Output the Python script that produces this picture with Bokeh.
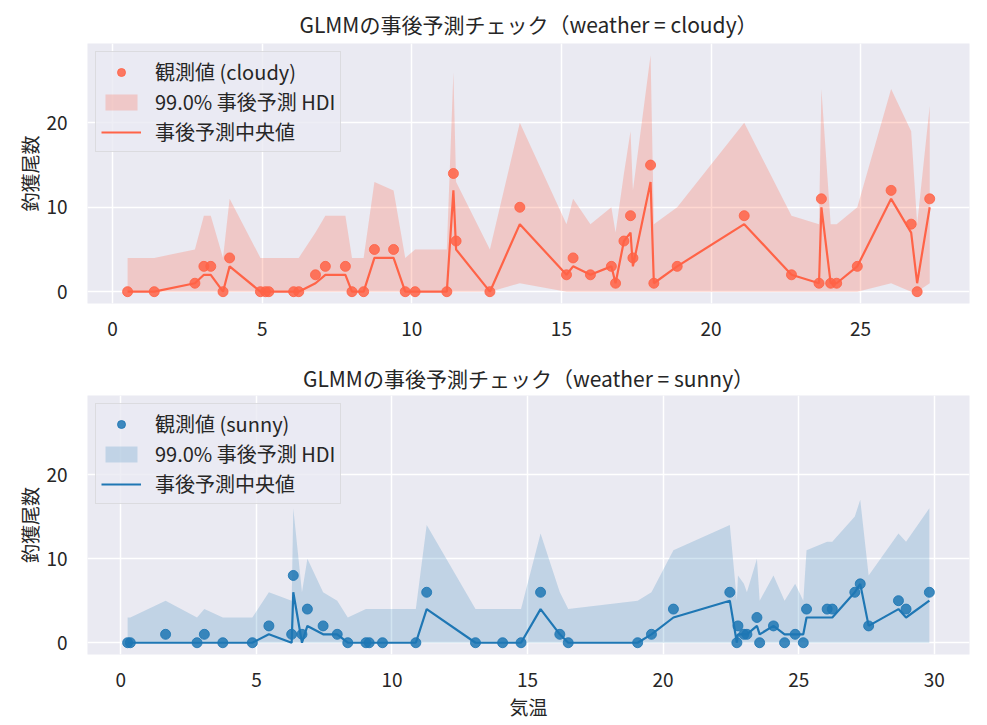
from bokeh.plotting import figure
from bokeh.layouts import column
from bokeh.models import Range1d, FixedTicker, Legend, LegendItem
from bokeh.embed import file_html
from bokeh.resources import INLINE

# ---- data: cloudy ----
cloudy_temp = [0.50, 1.39, 2.75, 3.05, 3.28, 3.69, 3.91, 4.94, 5.11, 5.22, 6.05, 6.22,
               6.78, 7.11, 7.78, 8.00, 8.39, 8.75, 9.39, 9.78, 10.11, 11.17, 11.39, 11.48,
               12.61, 13.61, 15.17, 15.39, 15.97, 16.67, 16.81, 17.09, 17.31, 17.39, 17.98,
               18.09, 18.87, 21.11, 22.69, 23.61, 23.69, 24.00, 24.20, 24.89, 26.02, 26.69,
               26.89, 27.31]
cloudy_obs = [0, 0, 1, 3, 3, 0, 4, 0, 0, 0, 0, 0,
              2, 3, 3, 0, 0, 5, 5, 0, 0, 0, 14, 6,
              0, 10, 2, 4, 2, 3, 1, 6, 9, 4, 15,
              1, 3, 9, 2, 1, 11, 1, 1, 3, 12, 8,
              0, 11]
cloudy_median = [0, 0, 1, 2, 2, 0, 3, 0, 0, 0, 0, 0,
                 1, 2, 2, 0, 0, 4, 4, 0, 0, 0, 12, 5,
                 0, 8, 2, 3, 2, 3, 1, 6, 7, 3, 13,
                 1, 3, 8, 2, 1, 10, 1, 1, 3, 11, 7,
                 1, 10]
cloudy_hdi_low = [0, 0, 0, 0, 0, 0, 0, 0, 0, 0, 0, 0,
                  0, 0, 0, 0, 0, 0, 0, 0, 0, 0, 0, 0,
                  0, 1, 0, 0, 0, 0, 0, 0, 0, 0, 0,
                  0, 0, 0, 0, 0, 0, 0, 0, 0, 1, 0,
                  0, 1]
cloudy_hdi_high = [4, 4, 5, 9, 9, 4, 11, 4, 4, 4, 4, 4,
                   7, 9, 9, 4, 4, 13, 12, 4, 5, 5, 26, 13,
                   5, 20, 8, 11, 8, 10, 7, 14, 19, 12, 28,
                   8, 10, 20, 9, 8, 24, 8, 8, 10, 24, 19,
                   8, 22]

# ---- data: sunny ----
sunny_temp = [0.25, 0.35, 1.65, 2.81, 3.08, 3.76, 4.85, 5.46, 6.30, 6.36, 6.68, 6.88,
              7.46, 7.98, 8.37, 9.04, 9.16, 9.65, 10.88, 11.28, 13.08, 14.08, 14.76,
              15.48, 16.19, 16.50, 19.06, 19.57, 20.38, 22.46, 22.72, 22.76, 22.98,
              23.09, 23.46, 23.56, 24.07, 24.48, 24.87, 25.17, 25.29, 26.05, 26.24,
              27.07, 27.27, 27.58, 28.68, 28.96, 29.82]
sunny_obs = [0, 0, 1, 0, 1, 0, 0, 2, 1, 8, 1, 4,
             2, 1, 0, 0, 0, 0, 0, 6, 0, 0, 0,
             6, 1, 0, 0, 1, 4, 6, 0, 2, 1,
             1, 3, 0, 2, 0, 1, 0, 4, 4, 4,
             6, 7, 2, 5, 4, 6]
sunny_median = [0, 0, 0, 0, 0, 0, 0, 1, 0, 6, 0, 2,
                1, 1, 0, 0, 0, 0, 0, 4, 0, 0, 0,
                4, 1, 0, 0, 1, 3, 5, 0, 1, 1,
                1, 2, 1, 2, 1, 1, 1, 3, 3, 3,
                6, 7, 2, 4, 3, 5]
sunny_hdi_low = [0] * 49
sunny_hdi_high = [3, 3, 5, 3, 4, 3, 3, 6, 5, 16, 6, 10,
                  6, 5, 3, 4, 4, 4, 4, 14, 4, 4, 4,
                  13, 6, 4, 5, 6, 11, 14, 5, 8, 7,
                  6, 10, 5, 8, 5, 7, 5, 11, 12, 12,
                  15, 17, 8, 13, 12, 16]

x_ticks_top = [0, 5, 10, 15, 20, 25]
x_ticks_bottom = [0, 5, 10, 15, 20, 25, 30]
y_ticks = [0, 10, 20]

FONT = "Noto Sans CJK JP"
BG = "#EAEAF2"
TXT = "#262626"


def make_panel(weather, temp, obs, med, lo, hi, color, band_alpha, xr, xticks,
               show_xlabel, border_top, border_bottom, frame_h, title_standoff):
    p = figure(frame_width=882, frame_height=frame_h,
               min_border_left=87, min_border_right=10,
               min_border_top=border_top, min_border_bottom=border_bottom,
               x_range=Range1d(*xr), y_range=Range1d(-1.4, 29.4),
               output_backend="svg", toolbar_location=None,
               title=f"GLMMの事後予測チェック（weather = {weather}）")
    p.background_fill_color = BG
    p.border_fill_color = "white"
    p.outline_line_color = None
    p.title.align = "center"
    p.title.text_font = FONT
    p.title.text_font_size = "21px"
    p.title.text_font_style = "normal"
    p.title.text_color = TXT
    p.title.standoff = title_standoff

    for g in (p.xgrid, p.ygrid):
        g.grid_line_color = "white"
        g.grid_line_width = 1.5
    p.xaxis.ticker = FixedTicker(ticks=xticks)
    p.yaxis.ticker = FixedTicker(ticks=y_ticks)
    for ax in (p.xaxis, p.yaxis):
        ax.axis_line_color = None
        ax.major_tick_line_color = None
        ax.minor_tick_line_color = None
        ax.major_label_text_font = FONT
        ax.major_label_text_font_size = "19px"
        ax.major_label_text_color = TXT
        ax.axis_label_text_font = FONT
        ax.axis_label_text_font_size = "19px"
        ax.axis_label_text_font_style = "normal"
        ax.axis_label_text_color = TXT
    p.xaxis.major_label_standoff = 12
    p.yaxis.major_label_standoff = 14
    p.yaxis.axis_label = "釣獲尾数"
    p.yaxis.axis_label_standoff = 0
    if show_xlabel:
        p.xaxis.axis_label = "気温"
        p.xaxis.axis_label_standoff = 3

    band = p.varea(x=temp, y1=lo, y2=hi, fill_color=color, fill_alpha=band_alpha)
    ln = p.line(x=temp, y=med, line_color=color, line_width=2.2)
    pts = p.scatter(x=temp, y=obs, size=10, fill_color=color, line_color=color,
                    fill_alpha=0.85, line_alpha=0.85)

    legend = Legend(items=[
        LegendItem(label=f"観測値 ({weather})", renderers=[pts]),
        LegendItem(label="99.0% 事後予測 HDI", renderers=[band]),
        LegendItem(label="事後予測中央値", renderers=[ln]),
    ], location="top_left")
    legend.margin = 8
    legend.padding = 5
    legend.spacing = 1
    legend.glyph_width = 40
    legend.glyph_height = 20
    legend.label_height = 20
    legend.label_standoff = 14
    legend.label_text_font = FONT
    legend.label_text_font_size = "20px"
    legend.label_text_color = TXT
    legend.background_fill_color = BG
    legend.background_fill_alpha = 0.8
    legend.border_line_color = "#CCCCCC"
    legend.border_line_width = 1
    p.add_layout(legend)
    return p


p1 = make_panel("cloudy", cloudy_temp, cloudy_obs, cloudy_median, cloudy_hdi_low,
                cloudy_hdi_high, "#FF6347", 0.25, (-0.84, 28.64), x_ticks_top,
                False, 43, 54, 260, 9)
p2 = make_panel("sunny", sunny_temp, sunny_obs, sunny_median, sunny_hdi_low,
                sunny_hdi_high, "#1F77B4", 0.2, (-1.23, 31.3), x_ticks_bottom,
                True, 35, 68, 259, 6)

layout = column(p1, p2, spacing=0)
open("out.html", "w").write(file_html(layout, INLINE))
